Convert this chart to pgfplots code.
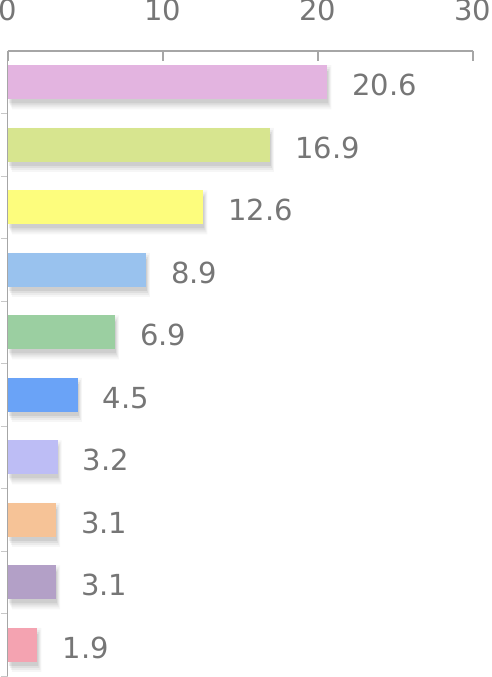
\documentclass[border=0pt]{standalone}
\usepackage{fontspec}
\setmainfont{DejaVu Sans}
\usepackage{pgfplots}
\usepackage{pgfplotstable}
\pgfplotsset{compat=1.18}

\definecolor{axisgrey}{HTML}{A6A6A6}
\definecolor{tickgrey}{HTML}{C8C8C8}
\definecolor{labelgrey}{HTML}{767676}
\definecolor{c1}{HTML}{E3B4E0}
\definecolor{c2}{HTML}{D7E58F}
\definecolor{c3}{HTML}{FDFD7D}
\definecolor{c4}{HTML}{99C2EE}
\definecolor{c5}{HTML}{9BCFA1}
\definecolor{c6}{HTML}{6AA3F7}
\definecolor{c7}{HTML}{BDBDF5}
\definecolor{c8}{HTML}{F6C397}
\definecolor{c9}{HTML}{B3A0C7}
\definecolor{c10}{HTML}{F4A3B1}

% values, top to bottom (used for the soft shadows)
\pgfplotstableread{
val pos
20.6 1
16.9 2
12.6 3
8.9  4
6.9  5
4.5  6
3.2  7
3.1  8
3.1  9
1.9  10
}\datatab

\pgfplotsset{
  onebar/.style={bar shift=0pt, draw=none, bar width=34pt,
    nodes near coords,
    nodes near coords style={font=\fontsize{29}{31}\selectfont,
      text=labelgrey, anchor=west, inner sep=0pt, xshift=25pt, yshift=-3pt,
      /pgf/number format/fixed, /pgf/number format/fixed zerofill,
      /pgf/number format/precision=1}},
  shade/.style={bar shift=0pt, draw=none, fill=black, yshift=-5pt},
}

\begin{document}
\begin{tikzpicture}
\begin{axis}[
  at={(0pt,0pt)}, anchor=south west,
  width=465pt, height=625pt, scale only axis,
  xmin=0, xmax=30, ymin=0.5, ymax=10.5, y dir=reverse,
  axis x line*=top, axis y line*=left,
  x axis line style={draw=axisgrey, line width=2.2pt, -},
  y axis line style={draw=axisgrey, line width=1pt, -},
  xtick={0,10,20,30},
  ytick={1.5,2.5,...,10.5}, yticklabels={},
  tick align=inside,
  x tick style={draw=axisgrey, line width=2.2pt, /pgfplots/major tick length=10pt},
  y tick style={draw=tickgrey, line width=1pt, /pgfplots/major tick length=7pt},
  /pgf/number format/assume math mode=true,
  xticklabel style={font=\fontsize{29}{31}\selectfont, text=labelgrey,
    anchor=base, yshift=30pt, inner sep=0pt},
  xbar,
  point meta=x,
  clip=false,
]
% soft shadows
\addplot[shade, bar width=44pt, fill opacity=0.035, xshift=4pt] table[x=val, y=pos] {\datatab};
\addplot[shade, bar width=40pt, fill opacity=0.045, xshift=3pt] table[x=val, y=pos] {\datatab};
\addplot[shade, bar width=36pt, fill opacity=0.055, xshift=2pt] table[x=val, y=pos] {\datatab};
\addplot[shade, bar width=32pt, fill opacity=0.07,  xshift=1pt] table[x=val, y=pos] {\datatab};
% bars
\addplot[onebar, fill=c1]  coordinates {(20.6,1)};
\addplot[onebar, fill=c2]  coordinates {(16.9,2)};
\addplot[onebar, fill=c3]  coordinates {(12.6,3)};
\addplot[onebar, fill=c4]  coordinates {(8.9,4)};
\addplot[onebar, fill=c5]  coordinates {(6.9,5)};
\addplot[onebar, fill=c6]  coordinates {(4.5,6)};
\addplot[onebar, fill=c7]  coordinates {(3.2,7)};
\addplot[onebar, fill=c8]  coordinates {(3.1,8)};
\addplot[onebar, fill=c9]  coordinates {(3.1,9)};
\addplot[onebar, fill=c10] coordinates {(1.9,10)};
\end{axis}
\pgfresetboundingbox
\useasboundingbox (-8pt,-1pt) rectangle (483pt,676pt);
\end{tikzpicture}
\end{document}
